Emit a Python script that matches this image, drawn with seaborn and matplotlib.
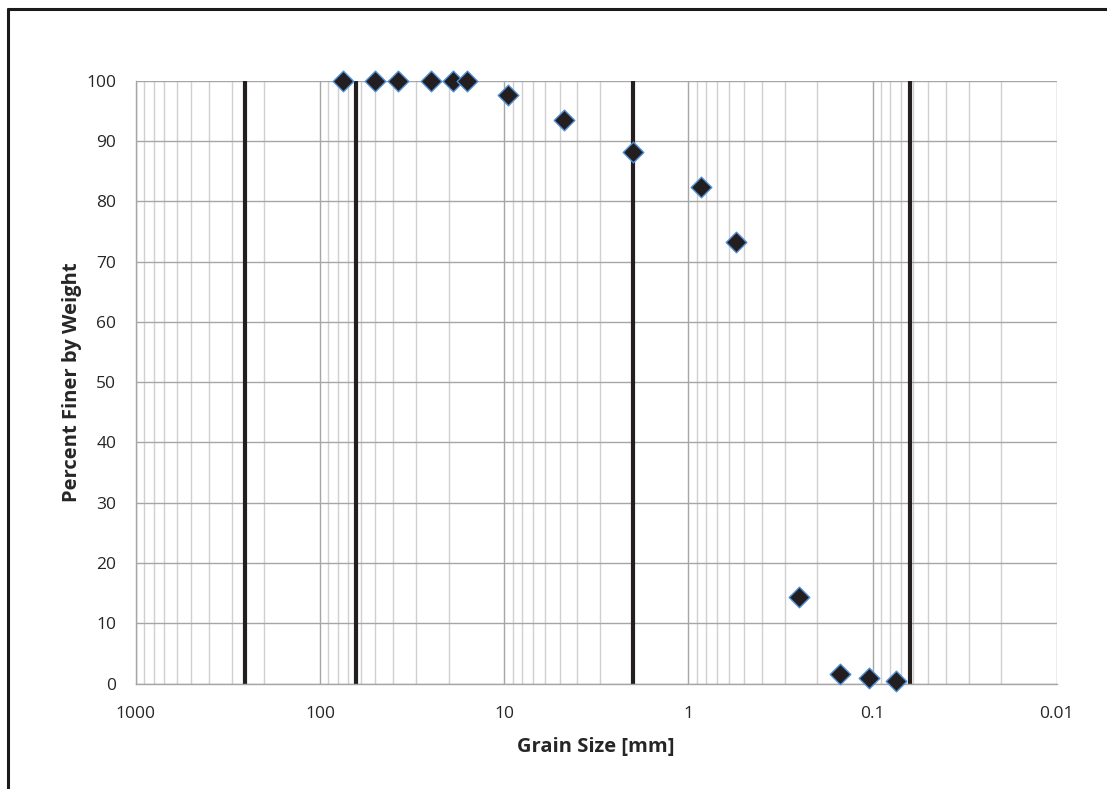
import numpy as np
import pandas as pd
import matplotlib
matplotlib.use('Agg')
import matplotlib.pyplot as plt
import matplotlib.ticker as mticker
from matplotlib.lines import Line2D
import seaborn as sns

# Sieve results
grain_size_mm = [75, 50, 37.5, 25, 19, 16, 9.5, 4.75, 2.0, 0.85, 0.55, 0.25, 0.15, 0.105, 0.075]
percent_finer = [100, 100, 100, 100, 100, 100, 97.7, 93.5, 88.1, 82.3, 73.2, 14.3, 1.6, 0.9, 0.45]

# Class boundaries (boulder/cobble, cobble/gravel, gravel/sand, sand/silt)
boundaries_mm = [256, 64, 2, 0.0625]

x_ticks = [1000, 100, 10, 1, 0.1, 0.01]
x_tick_labels = ['1000', '100', '10', '1', '0.1', '0.01']
y_ticks = list(range(0, 101, 10))

df = pd.DataFrame({'Grain Size [mm]': grain_size_mm,
                   'Percent Finer by Weight': percent_finer})

sns.set_style('white')
plt.rcParams['font.family'] = ['Open Sans', 'DejaVu Sans']

fig = plt.figure(figsize=(11.07, 7.89), dpi=100)
ax = fig.add_axes([0.1226, 0.1335, 0.832, 0.7642])

ax.set_xscale('log')
ax.set_xlim(1000, 0.01)
ax.set_ylim(0, 100)

# grid
ax.xaxis.set_minor_locator(mticker.LogLocator(base=10, subs=np.arange(2, 10)))
ax.grid(which='major', axis='both', color='#a6a6a6', linewidth=1.0)
ax.grid(which='minor', axis='x', color='#d0d0d0', linewidth=1.0)
ax.set_axisbelow(True)

for b in boundaries_mm:
    ax.axvline(b, color='#231f20', linewidth=3, zorder=2)

sns.scatterplot(data=df, x='Grain Size [mm]', y='Percent Finer by Weight', ax=ax,
                marker='D', s=110, color='#231f20', edgecolor='#4f8fd8',
                linewidth=1.0, zorder=3, clip_on=False, legend=False)

ax.set_xticks(x_ticks)
ax.set_xticklabels(x_tick_labels)
ax.xaxis.set_minor_formatter(mticker.NullFormatter())
ax.set_yticks(y_ticks)
ax.tick_params(axis='both', which='major', labelsize=12.5, colors='#a6a6a6',
               labelcolor='#262626', length=5, width=1, direction='out')
ax.tick_params(axis='x', which='minor', length=0)
ax.tick_params(axis='x', pad=11)
ax.tick_params(axis='y', pad=9)

for side in ['top', 'right']:
    ax.spines[side].set_visible(False)
for side in ['left', 'bottom']:
    ax.spines[side].set_color('#a6a6a6')
    ax.spines[side].set_linewidth(1.0)

ax.set_xlabel('Grain Size [mm]', fontsize=14.5, fontweight='bold', color='#262626', labelpad=11)
ax.set_ylabel('Percent Finer by Weight', fontsize=14.5, fontweight='bold', color='#262626', labelpad=3)

# outer chart border: only the top and left edges show
fig.lines.append(Line2D([8 / 1107, 8 / 1107], [0, 1 - 8.5 / 789], transform=fig.transFigure,
                        color='#1a1a1a', linewidth=2.2))
fig.lines.append(Line2D([8 / 1107, 1], [1 - 8.5 / 789, 1 - 8.5 / 789], transform=fig.transFigure,
                        color='#1a1a1a', linewidth=2.2))

fig.savefig('out.png', dpi=100)
